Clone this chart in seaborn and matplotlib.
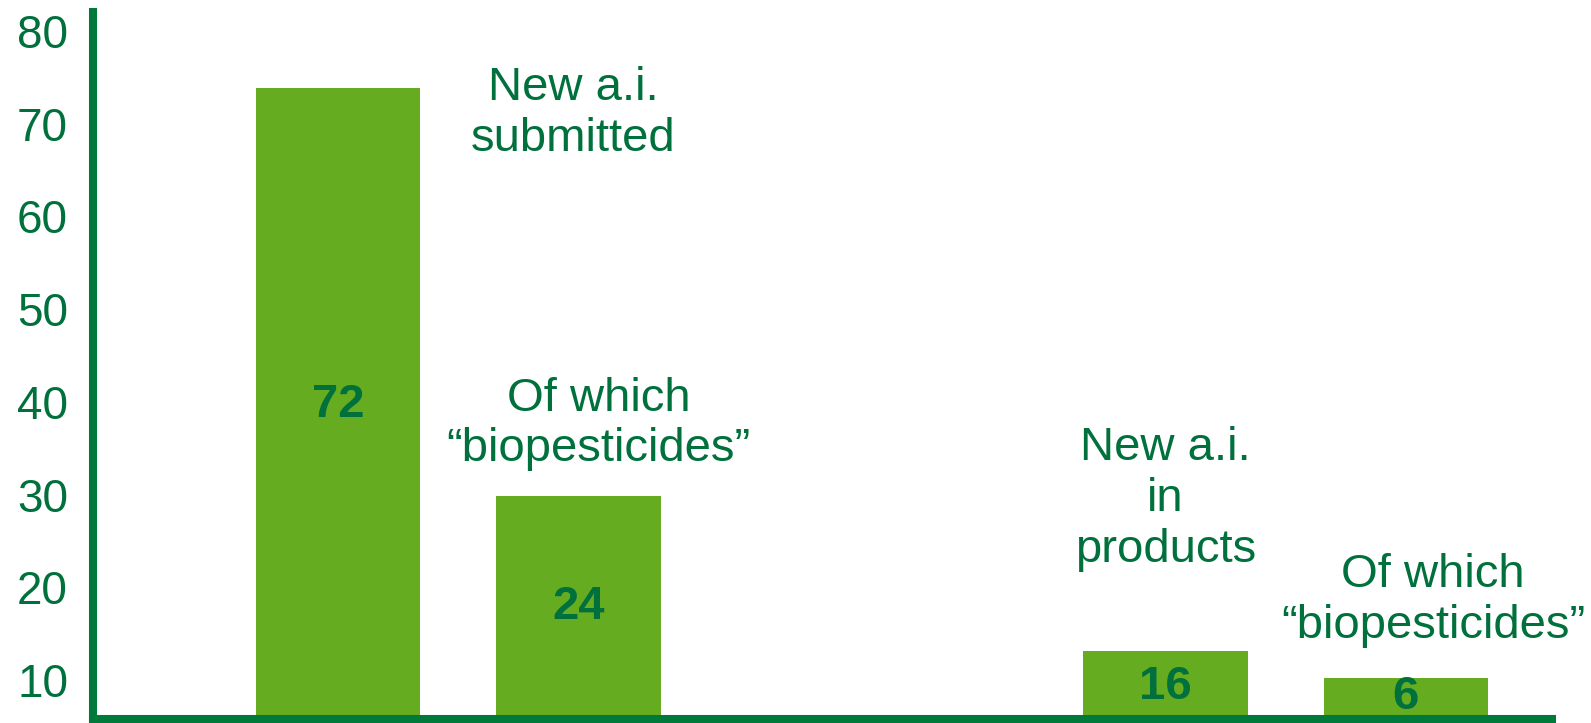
import matplotlib
matplotlib.use("Agg")
import matplotlib.pyplot as plt
import seaborn as sns

# bar heights as drawn (on the axis scale) and the numbers printed on them
positions = [0.0, 1.0, 3.44, 4.44]
heights = [73.8, 29.9, 13.1, 10.2]
bar_labels = ["72", "24", "16", "6"]
label_y = [39.7, 17.9, 9.25, 8.15]

captions = ["New a.i.\nsubmitted", "Of which\n\u201cbiopesticides\u201d",
            "New a.i.\nin\nproducts", "Of which\n\u201cbiopesticides\u201d"]
caption_x = [0.978, 1.084, 3.44, 4.553]
caption_y = [71.1, 37.6, 29.5, 18.55]

yticks = [10, 20, 30, 40, 50, 60, 70, 80]

BAR = "#66AC20"
TXT = "#00703C"
AXIS = "#007A3A"

sns.set_style("white")
plt.rcParams['font.family'] = ['Liberation Sans', 'DejaVu Sans']

fig = plt.figure(figsize=(15.91, 7.23), dpi=100)
ax = fig.add_axes([0.0585, 0.0055, 0.917, 0.9775])

sns.barplot(x=positions, y=heights, native_scale=True, width=0.684,
            color=BAR, saturation=1, edgecolor="none", ax=ax)

for x, y, t in zip(positions, label_y, bar_labels):
    ax.text(x, y, t, ha="center", va="center", fontsize=34,
            fontweight="bold", color=TXT)

for x, y, t in zip(caption_x, caption_y, captions):
    ax.text(x, y, t, ha="center", va="center", fontsize=34,
            color=TXT, linespacing=1.2, multialignment="center")

ax.set_xlim(-1.018, 5.048)
ax.set_ylim(5.8, 82)
ax.set_yticks(yticks)
ax.set_xticks([])
ax.tick_params(axis="y", length=0, pad=18, labelsize=33, labelcolor=TXT)
ax.set_xlabel("")
ax.set_ylabel("")

for side in ["top", "right"]:
    ax.spines[side].set_visible(False)
for side in ["left", "bottom"]:
    ax.spines[side].set_color(AXIS)
    ax.spines[side].set_linewidth(5.8)
    ax.spines[side].set_zorder(5)

fig.savefig("out.png", dpi=100)
